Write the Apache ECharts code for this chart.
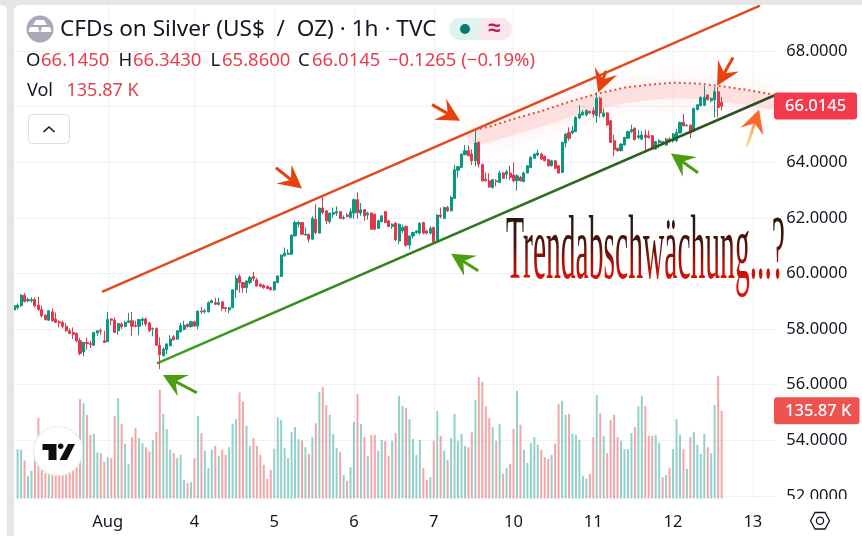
<!DOCTYPE html>
<html><head><meta charset="utf-8">
<style>
html,body{margin:0;padding:0;background:#e6e6e6;width:862px;height:536px;overflow:hidden}
#panel{position:absolute;left:14px;top:5px;width:848px;height:531px;background:#fff;border-top-left-radius:6px}
#side{position:absolute;left:0;top:5px;width:7px;height:531px;background:#fff;border-top-right-radius:6px;z-index:3}
#c{position:absolute;left:0;top:0;width:862px;height:536px}
#headline{position:absolute;left:506px;top:201px;z-index:4;white-space:nowrap;font:92px/92px "Liberation Serif",serif;transform-origin:0 0;padding-bottom:22px;
background:linear-gradient(180deg,#201a10 0px,#2a170b 18px,#4a140a 42px,#b21007 64px,#d81206 77px,#d81206 114px);-webkit-background-clip:text;background-clip:text;color:transparent}
</style>
<script src="https://cdn.jsdelivr.net/npm/echarts@6/dist/echarts.min.js"></script>
</head><body>
<div id="panel"></div><div id="c"></div><div id="side"></div><span id="headline">Trendabschwächung...?</span>
<script>
const opens=[58.69,58.77,58.84,59.22,59.02,59.02,59.06,58.86,58.70,58.50,
58.32,58.62,58.36,58.26,58.24,58.10,57.94,57.88,57.84,57.58,
57.18,57.52,57.48,57.42,57.86,57.94,57.58,57.55,58.36,58.32,
57.94,58.18,58.10,58.24,58.30,58.12,58.10,58.31,58.36,58.22,
58.00,58.02,57.42,57.04,57.26,57.40,57.72,57.64,57.90,57.99,
58.17,58.09,58.26,58.11,58.65,58.62,58.62,58.95,58.95,58.89,58.98,58.77,58.69,58.77,59.41,59.89,59.67,59.49,59.67,59.89,59.77,59.60,59.57,59.53,59.49,59.41,59.67,59.89,60.63,60.69,60.69,61.35,61.77,61.83,61.38,61.41,61.23,61.95,61.45,62.35,62.25,61.86,
62.13,62.17,62.22,61.98,62.10,62.01,62.17,62.65,62.17,62.29,
62.10,62.17,62.13,61.62,61.86,62.22,61.89,61.69,61.81,61.17,
61.53,61.69,61.02,61.35,61.47,61.45,61.83,61.53,61.45,61.65,
61.13,62.10,61.98,62.37,62.25,62.70,63.71,63.81,64.27,64.41,
64.29,64.05,64.71,63.91,63.39,63.33,63.09,63.33,63.27,63.61,
63.57,63.61,63.54,63.33,63.45,63.30,63.61,63.81,64.14,64.26,
64.29,64.21,64.09,63.87,64.05,63.87,63.63,64.69,65.07,65.05,
65.10,65.59,65.70,65.70,65.82,65.85,65.67,66.30,65.65,65.77,
65.49,64.77,64.50,64.41,64.62,64.86,65.10,65.22,64.89,64.83,
64.98,64.95,64.95,64.47,64.71,64.74,64.62,64.83,64.77,64.77,
65.05,65.43,65.31,65.33,65.10,65.89,66.03,66.05,66.41,66.21,
66.25,66.53,66.145];
const closes=[58.84,58.86,59.22,58.99,59.06,59.06,58.84,58.70,58.48,58.34,
58.66,58.30,58.24,58.22,58.10,57.94,57.84,57.81,57.58,57.12,
57.52,57.48,57.45,57.88,57.94,57.92,57.52,58.34,58.32,57.88,
58.20,58.08,58.24,58.30,58.10,58.10,58.34,58.36,58.18,57.94,
58.02,57.42,57.08,57.28,57.46,57.64,57.62,57.94,58.12,58.14,
58.09,58.26,58.11,58.65,58.62,58.66,58.95,59.02,58.89,58.95,58.74,58.74,58.77,59.41,59.82,59.67,59.49,59.73,59.85,59.82,59.55,59.54,59.49,59.46,59.42,59.70,59.91,60.66,60.73,60.73,61.38,61.83,61.83,61.41,61.41,61.23,61.98,61.47,62.35,62.19,61.89,62.17,
62.19,62.22,61.98,62.01,62.05,62.22,62.65,62.19,62.29,62.07,
62.17,61.59,61.59,61.89,62.07,61.83,61.69,61.77,61.21,61.77,
61.65,61.02,61.35,61.47,61.53,61.80,61.45,61.45,61.62,61.13,
62.10,62.05,62.37,62.25,62.73,63.73,63.84,64.29,64.41,64.23,
64.05,64.69,63.93,63.33,63.33,63.11,63.37,63.30,63.61,63.42,
63.66,63.45,63.33,63.51,63.33,63.61,63.87,64.17,64.29,64.33,
64.11,64.05,63.87,64.05,63.78,63.61,64.71,65.01,64.86,65.13,
65.61,65.73,65.79,65.85,65.77,65.73,66.30,65.77,65.77,65.34,
64.71,64.45,64.41,64.65,64.89,65.10,65.17,64.81,64.95,64.98,
64.89,64.89,64.47,64.74,64.77,64.65,64.83,64.77,65.01,65.07,
65.43,65.31,65.33,65.05,65.93,66.06,66.33,66.33,66.25,66.29,
66.53,65.97,66.0145];
const lows=[58.54,58.70,58.80,58.96,58.96,58.96,58.78,58.66,58.42,58.31,
58.30,58.26,58.24,58.06,58.02,57.90,57.82,57.64,57.54,57.06,
57.02,57.26,57.32,57.40,57.76,57.78,57.50,57.54,58.14,57.86,
57.80,58.00,58.06,58.22,57.76,58.06,57.78,58.12,58.10,57.90,
57.74,57.40,56.56,57.02,57.10,57.38,57.58,57.62,57.88,57.95,
58.05,58.05,58.09,57.99,58.54,58.56,58.60,58.93,58.86,58.84,58.65,58.62,58.57,58.75,59.13,59.31,59.31,59.29,59.61,59.73,59.53,59.50,59.45,59.43,59.38,59.37,59.65,59.87,60.60,60.66,60.67,61.33,61.65,61.39,61.36,61.11,61.21,61.41,61.43,62.13,61.77,61.80,
62.00,62.07,61.97,61.93,62.01,61.98,61.97,61.97,62.07,61.89,
61.93,61.57,61.55,61.60,61.84,61.80,61.66,61.60,61.15,61.05,
61.45,60.96,60.87,61.25,61.43,61.40,61.40,61.40,61.40,61.09,
61.11,61.98,61.95,62.21,62.23,62.68,63.45,63.79,64.25,64.21,
63.90,63.85,63.81,63.30,63.30,63.08,63.05,63.13,63.25,63.40,
63.39,63.37,63.27,62.97,63.30,63.28,63.59,63.79,64.12,64.20,
64.08,64.03,63.85,63.84,63.75,63.59,63.61,64.53,64.77,65.00,
65.08,65.55,65.68,65.65,65.74,65.61,65.41,65.61,65.60,65.30,
64.69,64.21,64.38,64.39,64.60,64.84,65.05,64.79,64.83,64.78,
64.35,64.85,64.45,64.45,64.50,64.60,64.58,64.70,64.70,64.72,
65.03,65.28,65.28,64.86,65.08,65.85,66.01,66.01,66.21,66.15,
65.61,65.61,65.86];
const highs=[58.90,58.92,59.26,59.30,59.13,59.14,59.14,59.16,58.84,58.54,
58.68,58.74,58.60,58.32,58.30,58.22,58.02,58.06,57.88,57.68,
57.54,57.70,57.58,57.90,57.95,58.02,57.94,58.62,58.40,58.42,
58.22,58.24,58.30,58.58,58.62,58.30,58.36,58.42,58.42,58.26,
58.06,58.06,57.70,57.34,57.50,57.78,57.78,57.96,58.22,58.30,
58.20,58.30,58.30,58.66,58.80,58.72,59.00,59.06,59.13,59.13,58.99,58.80,58.80,59.42,59.94,59.97,59.70,59.75,59.91,60.06,59.85,59.65,59.62,59.57,59.52,59.72,59.93,60.68,60.93,60.87,61.40,61.90,61.90,61.85,61.65,61.43,62.05,62.49,62.37,62.73,62.27,62.19,
62.37,62.41,62.25,62.09,62.17,62.34,62.70,62.91,62.53,62.31,
62.22,62.20,62.15,61.93,62.09,62.25,61.93,61.80,61.84,61.80,
61.75,61.72,61.37,61.50,61.56,61.84,61.86,61.57,61.70,61.68,
62.12,62.37,62.40,62.43,62.79,63.90,63.86,64.31,64.62,64.60,
64.45,65.13,64.75,63.95,63.63,63.60,63.40,63.39,63.70,63.64,
63.73,63.87,63.99,63.57,63.51,63.66,63.90,64.22,64.32,64.45,
64.35,64.24,64.12,64.09,64.08,63.90,64.74,65.04,65.25,65.30,
65.65,66.05,65.87,65.90,65.85,65.97,66.51,66.35,65.93,65.80,
65.51,64.98,64.53,64.68,64.91,65.13,65.34,65.25,65.17,65.12,
65.17,65.13,64.98,64.77,64.83,64.77,64.88,64.90,65.05,65.20,
65.46,65.73,65.36,65.36,65.96,66.09,66.36,66.75,66.45,66.33,
66.69,66.70,66.343];
const volumes=['-',76.5,75.5,58.9,35.2,42.9,70.3,124.6,44.5,39.3,44.5,54.8,49.6,44.5,54.8,60,52.2,60,75.5,
154,147.9,129.8,98.7,100.3,71.9,70.3,56.9,64.1,62.6,128.2,155.6,115.8,84.8,53.8,95.1,109.1,93.6,85.8,79.6,72.9,91,102.9,168.5,131.3,107.5,75.5,70.3,62.6,67.7,29,23.8,25.3,62.6,128.2,101.3,73.9,47,75.5,81.7,66.2,75.5,67.7,79.6,115.8,123,164.4,150.4,112.7,81.7,93.6,81.7,67.7,52.2,30.5,44.5,77,126.1,122,78.6,63.1,102.9,110.6,92,90,
79.6,69.3,95.1,116.8,165.4,172.7,144.8,129.8,100.3,78.1,72.4,36.2,27.4,48.6,118.9,162.3,115.8,95.1,66.2,98.7,98.7,73.9,91,89.4,66.2,89.4,101.3,159.2,143.7,140.6,123,92.5,67.7,91,47.6,29,33.1,89.4,135.5,97.2,73.9,60,93.6,131.3,89.4,100.3,81.7,79.6,102.4,153,188.2,181,142.7,124.6,110.6,89.4,115.8,38.3,47.6,53.8,108.1,167,114.3,75.5,55.3,85.8,95.1,83.2,75.5,64.1,61.5,67.7,84.8,146.8,151.5,129.8,131.3,100.3,98.7,91,35.2,30.5,38.3,95.1,160.3,132.4,97.2,70.3,122,129.8,95.1,89.4,76.5,76.5,101.3,110.6,142.7,159.2,143.7,97.2,97.2,98.2,85.8,33.1,36.2,47.6,76.5,123,98.7,76.5,46,95.1,103.4,83.2,69.3,100.3,79.6,70.3,145.3,190.3,135.87];
const slotCount=220;
const dayTicks={27:'Aug',52:'4',75:'5',98:'6',121:'7',144:'10',167:'11',190:'12',213:'13'};
const yTicksFmt=v=>v>=70?'':v.toFixed(4);

const redLine=[[25.34,59.34],[215.07,69.63]];
const greenLine=[[41.2,56.77],[220.3,66.46]];
const dottedArc=[[132.9,65.17],[137.2,65.28],[144.4,65.57],[151.6,65.82],[160.3,66.18],[168.1,66.46],[176.1,66.68],[183.4,66.79],[190.0,66.86],[197.8,66.82],[202.7,66.75],[210.7,66.61],[218.8,66.43]];
const redArrows=[[75.5,63.80,83.0,63.05],[120.5,66.07,128.6,65.49],[170.7,67.29,168.4,66.50],[207.3,67.76,202.7,66.75]];
const greenArrows=[[52.7,55.71,42.9,56.35],[133.8,60.10,126.0,60.71],[197.2,63.62,189.4,64.31]];
const orangeArrows=[[211.3,64.56,214.8,65.89]];

const UP='#089981',DOWN='#e5364b',VUP='#92d1ca',VDOWN='#f3a6a8',GRID='#f0f1f3',INK='#131722',HEAD='#e5404f';
const cats=Array.from({length:slotCount},(_,i)=>dayTicks[i]||'');
const candleData=opens.map((o,i)=>[o,closes[i],lows[i],highs[i]]);
const volData=volumes.map((v,i)=>({value:v,itemStyle:{color:closes[i]>=opens[i]?VUP:VDOWN}}));
const isTick=i=>dayTicks[i]!==undefined;
const font='"Noto Sans",sans-serif';
const LG=echarts.graphic.LinearGradient;

function arrowKids(api,a,color,shaft){
  const t=api.coord([a[0],a[1]]),h=api.coord([a[2],a[3]]);
  const dx=h[0]-t[0],dy=h[1]-t[1],d=Math.hypot(dx,dy),ux=dx/d,uy=dy/d,nx=-uy,ny=ux,L=23,W=12;
  const neck=[h[0]-ux*L*.62,h[1]-uy*L*.62];
  return [
   {type:'line',shape:{x1:t[0],y1:t[1],x2:neck[0],y2:neck[1]},style:{stroke:shaft||color,lineWidth:3},z2:1},
   {type:'polygon',shape:{points:[h,[h[0]-ux*L+nx*W,h[1]-uy*L+ny*W],neck,[h[0]-ux*L-nx*W,h[1]-uy*L-ny*W]]},style:{fill:color},z2:2}
  ];
}
const chart=echarts.init(document.getElementById('c'),null,{renderer:'canvas'});
const option={
 animation:false,
 backgroundColor:'transparent',
 grid:[{left:12.4,width:762.96,top:-4.75,height:500.75,outerBoundsMode:'none'},{left:12.4,width:762.96,top:369.5,height:129,outerBoundsMode:'none'}],
 xAxis:[
  {type:'category',gridIndex:0,data:cats,boundaryGap:true,axisLine:{show:false},axisTick:{show:false},axisLabel:{show:false},
   splitLine:{show:true,alignWithLabel:true,interval:isTick,lineStyle:{color:GRID,width:1}}},
  {type:'category',gridIndex:1,data:cats,boundaryGap:true,axisLine:{show:false},axisTick:{show:false},
   axisLabel:{show:true,interval:isTick,margin:15,color:INK,fontFamily:font,fontSize:16.5},
   splitLine:{show:true,alignWithLabel:true,interval:isTick,lineStyle:{color:GRID,width:1}}},
  {type:'value',gridIndex:0,min:-0.5,max:slotCount-0.5,show:false}
 ],
 yAxis:[
  {type:'value',gridIndex:0,position:'right',min:52,max:70,interval:2,axisLine:{show:false},axisTick:{show:false},
   axisLabel:{margin:11,color:INK,fontFamily:font,fontSize:16.5,formatter:yTicksFmt},splitLine:{lineStyle:{color:GRID,width:1}}},
  {type:'value',gridIndex:1,min:0,max:200,show:false,splitLine:{show:false}}
 ],
 series:[
  {type:'custom',name:'glow',xAxisIndex:2,yAxisIndex:0,z:1,silent:true,data:[[0,60]],
   renderItem:(p,api)=>({type:'polyline',
     shape:{points:dottedArc.map(a=>{const c=api.coord(a);return [c[0],c[1]+8];})},
     style:{stroke:'rgba(252,185,185,0.34)',fill:null,lineWidth:15,shadowBlur:22,shadowColor:'rgba(250,150,150,0.65)',lineCap:'round'}})},
  {type:'bar',name:'Vol',xAxisIndex:1,yAxisIndex:1,data:volData,barWidth:2,z:2},
  {type:'candlestick',name:'CFDs on Silver',xAxisIndex:0,yAxisIndex:0,data:candleData,barWidth:2.6,z:3,
   itemStyle:{color:UP,color0:DOWN,borderColor:UP,borderColor0:DOWN,borderWidth:1}},
  {type:'custom',name:'trend',xAxisIndex:2,yAxisIndex:0,z:6,silent:true,data:[[0,60]],
   renderItem:(p,api)=>{
     const r0=api.coord(redLine[0]),r1=api.coord(redLine[1]),g0=api.coord(greenLine[0]),g1=api.coord(greenLine[1]);
     return {type:'group',children:[
       {type:'line',shape:{x1:r0[0],y1:r0[1],x2:r1[0],y2:r1[1]},style:{stroke:'#e2491c',lineWidth:2.5}},
       {type:'line',shape:{x1:g0[0],y1:g0[1],x2:g1[0],y2:g1[1]},style:{lineWidth:2.5,stroke:new LG(g0[0],0,g1[0],0,[{offset:0,color:'#3c9f1d'},{offset:.5,color:'#2f7a1e'},{offset:1,color:'#2c4a20'}],true)}},
       {type:'polyline',shape:{points:dottedArc.map(a=>api.coord(a))},style:{stroke:'#e8502e',fill:null,lineWidth:2,lineDash:[2,3]}}
     ]};
   }},
  {type:'custom',name:'red arrows',xAxisIndex:2,yAxisIndex:0,z:7,silent:true,data:redArrows,encode:{x:[0,2],y:[1,3]},
   renderItem:(p,api)=>({type:'group',children:arrowKids(api,redArrows[p.dataIndex],'#e5420f')})},
  {type:'custom',name:'green arrows',xAxisIndex:2,yAxisIndex:0,z:7,silent:true,data:greenArrows,encode:{x:[0,2],y:[1,3]},
   renderItem:(p,api)=>({type:'group',children:arrowKids(api,greenArrows[p.dataIndex],'#4b9e12')})},
  {type:'custom',name:'orange arrow',xAxisIndex:2,yAxisIndex:0,z:7,silent:true,data:orangeArrows,encode:{x:[0,2],y:[1,3]},
   renderItem:(p,api)=>{const a=orangeArrows[p.dataIndex],t=api.coord([a[0],a[1]]),h=api.coord([a[2],a[3]]);
     return {type:'group',children:arrowKids(api,a,'#f8692b',new LG(t[0],t[1],h[0],h[1],[{offset:0,color:'#fde6a6'},{offset:1,color:'#f8692b'}],true))};}}
 ]
};
chart.setOption(option);
const lastY=chart.convertToPixel({yAxisIndex:0},closes[closes.length-1]);
const lastV=volumes[volumes.length-1];
const volY=chart.convertToPixel({yAxisIndex:1},lastV);
const txt=(x,y,text,fill,size,extra)=>({type:'text',z:20,x,y,style:Object.assign({text,fill,font:(extra&&extra.weight?extra.weight+' ':'')+size+'px '+font,verticalAlign:'middle'},extra&&extra.style)});
const g=[
 {type:'rect',z:15,shape:{x:776,y:499,width:86,height:37},style:{fill:'#fff'}},
 {type:'rect',z:15,shape:{x:0,y:0,width:862,height:5},style:{fill:'#e6e6e6'}},
 {type:'rect',z:15,shape:{x:7,y:5,width:7,height:531},style:{fill:'#e6e6e6'}},
 {type:'circle',z:20,shape:{cx:40,cy:29,r:13.5},style:{fill:'#aaa8b8'}},
 {type:'polygon',z:21,shape:{points:[[36,20],[44,20],[47,25],[33,25]]},style:{fill:'#fff'}},
 {type:'polygon',z:21,shape:{points:[[30,27],[38,27],[39.5,32],[28.5,32]]},style:{fill:'#fff'}},
 {type:'polygon',z:21,shape:{points:[[42,27],[50,27],[51.5,32],[40.5,32]]},style:{fill:'#fff'}},
 txt(60,29.5,'CFDs on Silver (US$\u00a0 /\u00a0 OZ) · 1h · TVC',INK,22.6),
 {type:'rect',z:20,shape:{x:449,y:18,width:32,height:22,r:[11,0,0,11]},style:{fill:'#dff3ee'}},
 {type:'rect',z:20,shape:{x:481,y:18,width:31,height:22,r:[0,11,11,0]},style:{fill:'#fbe6ea'}},
 {type:'circle',z:21,shape:{cx:465,cy:29,r:5},style:{fill:'#0b7a68'}},
 txt(488,29,'≈','#c2185b',22,{weight:'bold'}),
 txt(26,60.5,'O',INK,18.5),txt(41,60.5,'66.1450',HEAD,18.5),
 txt(118.5,60.5,'H',INK,18.5),txt(133,60.5,'66.3430',HEAD,18.5),
 txt(210.5,60.5,'L',INK,18.5),txt(222,60.5,'65.8600',HEAD,18.5),
 txt(298,60.5,'C',INK,18.5),txt(312,60.5,'66.0145',HEAD,18.5),
 txt(388,60.5,'−0.1265 (−0.19%)',HEAD,18.5),
 txt(27,91,'Vol',INK,18),txt(66.5,91,'135.87 K',HEAD,18),
 {type:'rect',z:20,shape:{x:28.5,y:114.5,width:41,height:29,r:4},style:{fill:'#fff',stroke:'#dcdde0',lineWidth:1}},
 {type:'polyline',z:21,shape:{points:[[43.5,132],[49,127],[54.5,132]]},style:{stroke:INK,fill:null,lineWidth:1.6}},
 {type:'rect',z:20,shape:{x:774,y:lastY-13.5,width:83,height:27,r:3},style:{fill:'#f23a4c'}},
 txt(785,lastY+.5,closes[closes.length-1].toFixed(4),'#fff',16.5,{weight:500}),
 {type:'rect',z:20,shape:{x:774,y:volY-13.5,width:85.5,height:27,r:3},style:{fill:'#ef5350'}},
 txt(785,volY+.5,'135.87 K','#fff',16.5,{weight:500}),
 {type:'circle',z:20,shape:{cx:58,cy:451,r:24.5},style:{fill:'#fff',stroke:'#ececec',lineWidth:1.2}},
 {type:'polygon',z:21,shape:{points:[[42.5,444],[56.5,444],[56.5,460],[48.5,460],[48.5,450],[42.5,450]]},style:{fill:'#0f0f0f'}},
 {type:'circle',z:21,shape:{cx:60.7,cy:446.3,r:2.7},style:{fill:'#0f0f0f'}},
 {type:'polygon',z:21,shape:{points:[[68,444],[75,444],[67,460],[59.5,460]]},style:{fill:'#0f0f0f'}},
 {type:'polygon',z:21,shape:{points:[[810.5,520.7],[815,512.5],[825,512.5],[829.5,520.7],[825,529],[815,529]]},style:{fill:'#fff',stroke:INK,lineWidth:1.3}},
 {type:'circle',z:21,shape:{cx:820,cy:520.7,r:3.6},style:{fill:'#fff',stroke:INK,lineWidth:1.3}}
];
chart.setOption({graphic:g});
const hl=document.getElementById('headline');
hl.style.transform='scaleX('+(279/hl.getBoundingClientRect().width)+')';
</script></body></html>
